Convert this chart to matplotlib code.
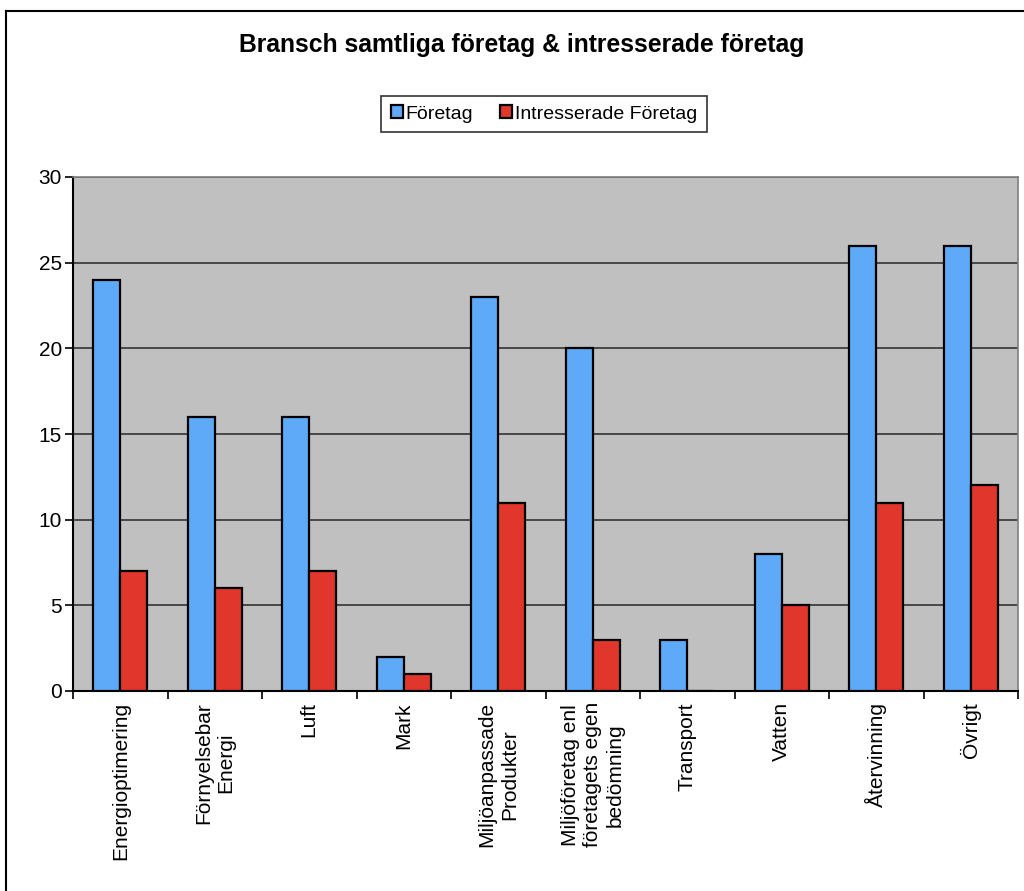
import numpy as np
from matplotlib import pyplot as plt
from matplotlib.lines import Line2D

categories = ["Energioptimering", "Förnyelsebar\nEnergi", "Luft", "Mark",
              "Miljöanpassade\nProdukter", "Miljöföretag enl\nföretagets egen\nbedömning",
              "Transport", "Vatten", "Återvinning", "Övrigt"]
foretag = [24, 16, 16, 2, 23, 20, 3, 8, 26, 26]
intresserade = [7, 6, 7, 1, 11, 3, 0, 5, 11, 12]

plt.rcParams['font.family'] = ['Liberation Sans', 'DejaVu Sans']

fig = plt.figure(figsize=(10.24, 8.91), dpi=100)
ax = fig.add_axes([73 / 1024, 1 - 691 / 891, 945 / 1024, 514 / 891])

x = np.arange(len(categories))
w = 1 / 3.5
ax.bar(x - w / 2, foretag, w, color="#5EAAF8", edgecolor="black", linewidth=1.6, label="Företag", zorder=3)
ax.bar(x + w / 2, intresserade, w, color="#E0362C", edgecolor="black", linewidth=1.6,
       label="Intresserade Företag", zorder=3)

ax.set_facecolor("#C0C0C0")
ax.set_xlim(-0.5, len(categories) - 0.5)
ax.set_ylim(0, 30)
ax.set_yticks(range(0, 31, 5))
ax.yaxis.grid(True, color="#333333", linewidth=1.2, zorder=1)
ax.set_axisbelow(True)

ax.set_xticks(x)
ax.set_xticklabels(categories, rotation=90, fontsize=15, va="top", ha="center",
                   multialignment="center", linespacing=1.22)
ax.set_xticks(np.arange(-0.5, len(categories)), minor=True)
ax.tick_params(axis="x", which="major", length=0, pad=8)
ax.tick_params(axis="x", which="minor", length=6, width=1.2, direction="out")
ax.tick_params(axis="y", length=6, width=1.2, direction="out", labelsize=15, pad=2)

for s in ["left", "bottom"]:
    ax.spines[s].set_color("black")
    ax.spines[s].set_linewidth(1.5)
for s in ["top", "right"]:
    ax.spines[s].set_color("#808080")
    ax.spines[s].set_linewidth(1.2)

fig.text(522 / 1024, 1 - 45 / 891, "Bransch samtliga företag & intresserade företag",
         ha="center", va="center", fontsize=17.8, fontweight="bold")

leg = fig.legend(loc="center", bbox_to_anchor=(544 / 1024, 1 - 114 / 891), ncol=2,
                 fontsize=14, frameon=True, fancybox=False, edgecolor="black",
                 handlelength=0.6, handleheight=0.6, handletextpad=0.15, columnspacing=1.4,
                 borderpad=0.5, borderaxespad=0)
leg.get_frame().set_linewidth(1.2)

# chart area border (left and top)
fig.add_artist(Line2D([6 / 1024, 6 / 1024], [0, 1 - 11 / 891], color="black", linewidth=1.5,
                      transform=fig.transFigure))
fig.add_artist(Line2D([6 / 1024, 1], [1 - 11 / 891, 1 - 11 / 891], color="black", linewidth=1.5,
                      transform=fig.transFigure))

fig.savefig("out.png", dpi=100)
